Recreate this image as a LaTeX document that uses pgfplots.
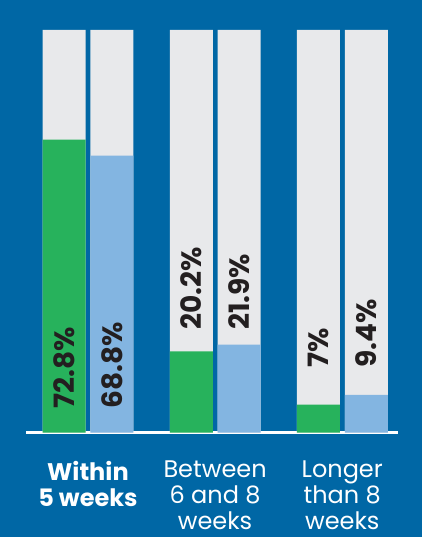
\documentclass[border=0pt]{standalone}
\usepackage{fontspec}
\setmainfont{Poppins}
\usepackage{pgfplots}
\pgfplotsset{compat=1.18}
\definecolor{bgblue}{HTML}{0067A5}
\definecolor{bargray}{HTML}{E8E9EB}
\definecolor{bargreen}{HTML}{27B25C}
\definecolor{barblue}{HTML}{83B5E1}
\definecolor{txtdark}{HTML}{231F20}
\begin{document}
\begin{tikzpicture}
\fill[bgblue] (0,0) rectangle (422bp,537bp);
\begin{axis}[
  at={(26bp,104.3bp)}, anchor=south west,
  scale only axis, width=371.7bp, height=402.7bp,
  xmin=-0.487, xmax=2.436, ymin=0, ymax=100,
  axis y line=none,
  axis x line=bottom,
  x axis line style={white, line width=3bp, -},
  xtick={0,1,2},
  xticklabels={{\textbf{Within}\\\textbf{5 weeks}},{Between\\6 and 8\\weeks},{Longer\\than 8\\weeks}},
  major tick length=0pt,
  xticklabel style={align=center, text=white, font=\fontsize{24bp}{26bp}\selectfont, yshift=-28bp, inner sep=0pt},
  clip=false,
]
\addplot[ybar, bar width=0.338, bar shift=-0.187, fill=bargray, draw=none] coordinates {(0,100) (1,100) (2,100)};
\addplot[ybar, bar width=0.338, bar shift=0.189, fill=bargray, draw=none] coordinates {(0,100) (1,100) (2,100)};
\addplot[ybar, bar width=0.338, bar shift=-0.187, fill=bargreen, draw=none] coordinates {(0,72.8) (1,20.2) (2,7)};
\addplot[ybar, bar width=0.338, bar shift=0.189, fill=barblue, draw=none] coordinates {(0,68.8) (1,21.9) (2,9.4)};
\addplot[draw=none, mark=none, nodes near coords, point meta=explicit symbolic,
  every node near coord/.style={rotate=90, anchor=west, inner sep=0pt, text=txtdark, font=\fontsize{28bp}{30bp}\selectfont\bfseries}]
  coordinates {(-0.187,5.9) [72.8\%] (0.189,5.9) [68.8\%] (0.813,25.5) [20.2\%] (1.189,25.5) [21.9\%] (1.813,16.1) [7\%] (2.189,16.1) [9.4\%]};
\end{axis}
\pgfresetboundingbox
\useasboundingbox (0,0) rectangle (422bp,537bp);
\end{tikzpicture}
\end{document}
